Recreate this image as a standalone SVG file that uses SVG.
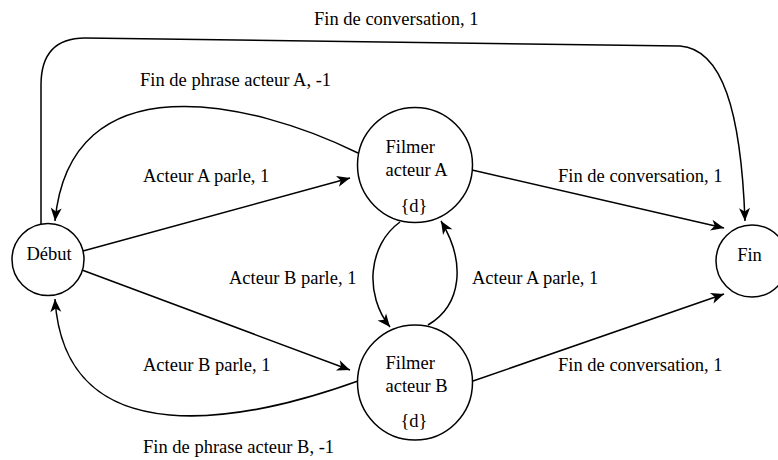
<svg xmlns="http://www.w3.org/2000/svg" width="778" height="460" viewBox="0 0 778 460">
<style>
text{font-family:"Liberation Serif","Times New Roman",serif;font-size:18.5px;fill:#000}
.n{fill:#fff;stroke:#000;stroke-width:1.5}
.e{fill:none;stroke:#000;stroke-width:1.5;marker-end:url(#arr)}
.c{text-anchor:middle}
</style>
<defs>
<marker id="arr" markerUnits="userSpaceOnUse" markerWidth="16" markerHeight="14" refX="0" refY="0" viewBox="-14 -7 16 14" orient="auto" overflow="visible">
<path d="M0,0 L-13,-5.5 L-9.5,0 L-13,5.5 Z" fill="#000"/>
</marker>
</defs>
<rect width="778" height="460" fill="#fff"/>
<g id="connectors">
<path class="e" d="M41,225 L41,85 Q41,38 85,38 L680,46 C722,49 741,110 745,221"/>
<path class="e" d="M358,153 C250,100 70,60 55,221"/>
<path class="e" d="M83,251 L350,178"/>
<path class="e" d="M82,270 L350,370"/>
<path class="e" d="M358,381 C250,420 65,460 55,299"/>
<path class="e" d="M472,170 L724,228"/>
<path class="e" d="M473,381 L724,294"/>
<path class="e" d="M400,222 C368,245 364,295 390,327"/>
<path class="e" d="M428,325 C462,305 466,262 441,221"/>
</g>
<g id="labels">
<text x="314" y="25">Fin de conversation, 1</text>
<text x="140" y="86">Fin de phrase acteur A, -1</text>
<text x="143" y="182">Acteur A parle, 1</text>
<text x="558" y="182">Fin de conversation, 1</text>
<text x="229" y="284">Acteur B parle, 1</text>
<text x="472" y="284">Acteur A parle, 1</text>
<text x="143" y="371">Acteur B parle, 1</text>
<text x="558" y="371">Fin de conversation, 1</text>
<text x="143" y="453">Fin de phrase acteur B, -1</text>
</g>
<g id="debut">
<circle class="n" cx="48" cy="259.5" r="36"/>
<text class="c" x="49" y="260">Début</text>
</g>
<g id="filmerA">
<circle class="n" cx="415" cy="165" r="57.5"/>
<text x="385.5" y="153">Filmer</text>
<text x="385.5" y="176">acteur A</text>
<text class="c" x="414" y="212">{d}</text>
</g>
<g id="filmerB">
<circle class="n" cx="415" cy="382.5" r="57.5"/>
<text x="385.5" y="369">Filmer</text>
<text x="385.5" y="392">acteur B</text>
<text class="c" x="414" y="427">{d}</text>
</g>
<g id="fin">
<circle class="n" cx="752" cy="261" r="36"/>
<text class="c" x="749.5" y="261">Fin</text>
</g>
</svg>
